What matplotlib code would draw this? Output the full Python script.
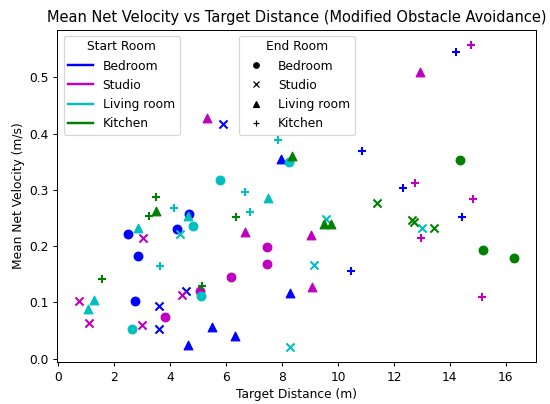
import matplotlib
matplotlib.use("Agg")
import matplotlib.pyplot as plt
from matplotlib.lines import Line2D

# Rooms and the colour / marker used for each
rooms = ["Bedroom", "Studio", "Living room", "Kitchen"]
room_colors = ["b", "m", "c", "g"]
room_markers = ["o", "x", "^", "+"]

# Each trial: start room, end room, target distance (m), mean net velocity (m/s)
start_room = (["Bedroom"] * 19 + ["Studio"] * 20 + ["Living room"] * 20
              + ["Kitchen"] * 16)
end_room = (["Bedroom"] * 5 + ["Studio"] * 4 + ["Living room"] * 5 + ["Kitchen"] * 5
            + ["Bedroom"] * 5 + ["Studio"] * 5 + ["Living room"] * 5 + ["Kitchen"] * 5
            + ["Bedroom"] * 5 + ["Studio"] * 5 + ["Living room"] * 5 + ["Kitchen"] * 5
            + ["Bedroom"] * 3 + ["Studio"] * 4 + ["Living room"] * 4 + ["Kitchen"] * 5)
distance = [2.50, 2.86, 2.74, 4.24, 4.69,
            5.88, 3.60, 3.60, 4.57,
            4.65, 5.49, 6.32, 8.29, 7.96,
            14.21, 10.85, 12.33, 14.42, 10.45,
            6.18, 5.05, 7.45, 7.45, 3.81,
            0.75, 1.11, 2.98, 3.04, 4.42,
            5.31, 6.67, 12.93, 9.02, 9.07,
            14.74, 12.76, 14.83, 12.95, 15.13,
            5.79, 4.83, 5.10, 2.64, 8.26,
            4.36, 9.56, 9.15, 8.29, 13.02,
            1.29, 1.05, 2.86, 7.49, 4.62,
            7.87, 6.69, 6.86, 4.12, 3.63,
            14.36, 15.19, 16.30,
            11.38, 12.65, 12.70, 13.43,
            3.51, 8.35, 9.50, 9.75,
            3.48, 3.24, 1.55, 6.35, 5.14]
velocity = [0.221, 0.183, 0.103, 0.231, 0.257,
            0.417, 0.094, 0.053, 0.121,
            0.024, 0.056, 0.041, 0.117, 0.355,
            0.545, 0.369, 0.304, 0.252, 0.156,
            0.146, 0.120, 0.198, 0.168, 0.074,
            0.103, 0.063, 0.059, 0.215, 0.114,
            0.427, 0.225, 0.509, 0.220, 0.128,
            0.558, 0.312, 0.284, 0.214, 0.110,
            0.318, 0.235, 0.111, 0.053, 0.350,
            0.221, 0.249, 0.166, 0.021, 0.233,
            0.104, 0.088, 0.233, 0.285, 0.253,
            0.389, 0.297, 0.260, 0.267, 0.165,
            0.353, 0.194, 0.179,
            0.276, 0.247, 0.243, 0.233,
            0.262, 0.360, 0.239, 0.239,
            0.287, 0.254, 0.142, 0.251, 0.130]

dpi = 88
fig = plt.figure(figsize=(550 / dpi, 404 / dpi), dpi=dpi)
ax = fig.add_axes([57.5 / 550, 1 - 362 / 404, 478.5 / 550, 332.5 / 404])

for s, e, d, v in zip(start_room, end_room, distance, velocity):
    c = room_colors[rooms.index(s)]
    m = room_markers[rooms.index(e)]
    if m in ("x", "+"):
        ax.scatter(d, v, color=c, marker=m, s=44, linewidths=1.7)
    else:
        ax.scatter(d, v, color=c, marker=m, s=50)

ax.set_title("Mean Net Velocity vs Target Distance (Modified Obstacle Avoidance)")
ax.set_xlabel("Target Distance (m)")
ax.set_ylabel("Mean Net Velocity (m/s)")

start_handles = [Line2D([0], [0], color=c, lw=2) for c in room_colors]
end_handles = [Line2D([0], [0], color="k", marker=m, linestyle="", markersize=4.5)
               for m in room_markers]
leg1 = ax.legend(start_handles, rooms, title="Start Room", loc="upper left")
ax.add_artist(leg1)
ax.legend(end_handles, rooms, title="End Room", loc="upper center")

fig.savefig("out.png", dpi=dpi)
